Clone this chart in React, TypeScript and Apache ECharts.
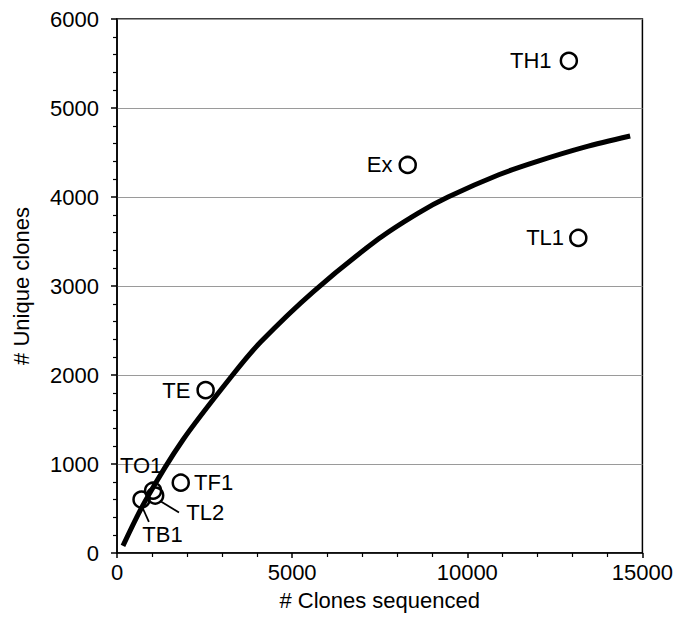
import React, { useEffect, useRef } from "react";
import * as echarts from "echarts";

const xTickLabels = ["0", "5000", "10000", "15000"];
const yTickLabels = ["0", "1000", "2000", "3000", "4000", "5000", "6000"];

const pointNames = ["TH1", "Ex", "TL1", "TE", "TF1", "TO1", "TL2", "TB1"];
const pointX = [12900, 8300, 13170, 2530, 1820, 1030, 1090, 700];
const pointY = [5530, 4360, 3540, 1830, 790, 700, 645, 600];

const curveX = [170, 800, 1880, 3300, 4100, 5600, 7470, 8600, 9450, 10900, 12000, 13350, 14650];
const curveY = [80, 580, 1270, 2000, 2370, 2935, 3530, 3820, 4000, 4250, 4400, 4560, 4685];

// leader lines from circles to labels
const leaderTL2 = [[1230, 585], [1770, 455]];
const leaderTB1 = [[740, 500], [910, 350]];

const FONT = "Liberation Sans, Arial, sans-serif";

export default function App() {
  const ref = useRef<HTMLDivElement>(null);
  useEffect(() => {
    document.body.style.margin = "0";
    if (!ref.current) return;
    const chart = echarts.init(ref.current, null, { renderer: "svg" });

    const labelCfg: Record<string, any> = {
      TH1: { position: "left", distance: 8 },
      Ex: { position: "left", distance: 6 },
      TL1: { position: "left", distance: 5 },
      TE: { position: "left", distance: 6 },
      TF1: { position: "right", distance: 4 },
      TO1: { position: "inside", offset: [-12, -25] },
      TL2: { position: "inside", offset: [50, 17] },
      TB1: { position: "inside", offset: [21, 35] },
    };

    const scatterData = pointNames.map((n, i) => ({
      name: n,
      value: [pointX[i], pointY[i]],
      label: { show: true, formatter: n, ...labelCfg[n] },
    }));

    const leaderStyle = { color: "#000", width: 1.8 };

    chart.setOption({
      animation: false,
      backgroundColor: "#fff",
      textStyle: { fontFamily: FONT },
      grid: {
        left: 117,
        right: 31,
        top: 19,
        bottom: 73,
        show: true,
        borderColor: "#000",
        borderWidth: 1.5,
      },
      xAxis: {
        type: "value",
        min: 0,
        max: 15000,
        interval: 5000,
        name: "# Clones sequenced",
        nameLocation: "middle",
        nameGap: 36,
        nameTextStyle: { fontSize: 22, color: "#000", fontFamily: FONT },
        axisLine: { show: true, lineStyle: { color: "#000", width: 1.5 } },
        axisTick: { show: true, length: 5, lineStyle: { color: "#000", width: 1.5 } },
        minorTick: { show: true, splitNumber: 5, length: 4, lineStyle: { color: "#000", width: 1.2 } },
        axisLabel: {
          margin: 8,
          fontSize: 22,
          color: "#000",
          fontFamily: FONT,
          formatter: (v: number) => xTickLabels[Math.round(v / 5000)] ?? String(v),
        },
        splitLine: { show: false },
      },
      yAxis: {
        type: "value",
        min: 0,
        max: 6000,
        interval: 1000,
        name: "# Unique clones",
        nameLocation: "middle",
        nameGap: 85,
        nameTextStyle: { fontSize: 22, color: "#000", fontFamily: FONT },
        axisLine: { show: true, lineStyle: { color: "#000", width: 1.5 } },
        axisTick: { show: true, length: 6, lineStyle: { color: "#000", width: 1.5 } },
        minorTick: { show: true, splitNumber: 5, length: 4, lineStyle: { color: "#000", width: 1.2 } },
        axisLabel: {
          margin: 18,
          fontSize: 22,
          color: "#000",
          fontFamily: FONT,
          formatter: (v: number) => yTickLabels[Math.round(v / 1000)] ?? String(v),
        },
        splitLine: { show: true, lineStyle: { color: "#9a9a9a", width: 1 } },
      },
      series: [
        {
          type: "line",
          data: curveX.map((x, i) => [x, curveY[i]]),
          smooth: 0.3,
          showSymbol: false,
          symbol: "none",
          lineStyle: { color: "#000", width: 5 },
          z: 3,
        },
        {
          type: "line",
          data: leaderTL2,
          symbol: "none",
          lineStyle: leaderStyle,
          z: 3,
        },
        {
          type: "line",
          data: leaderTB1,
          symbol: "none",
          lineStyle: leaderStyle,
          z: 3,
        },
        {
          type: "scatter",
          data: scatterData,
          symbol: "circle",
          symbolSize: 16,
          itemStyle: { color: "rgba(0,0,0,0)", borderColor: "#000", borderWidth: 2.5, opacity: 1 },
          label: { color: "#000", fontSize: 22, fontFamily: FONT },
          z: 4,
        },
      ],
    });
    return () => chart.dispose();
  }, []);
  return <div ref={ref} style={{ width: 676, height: 626 }} />;
}
